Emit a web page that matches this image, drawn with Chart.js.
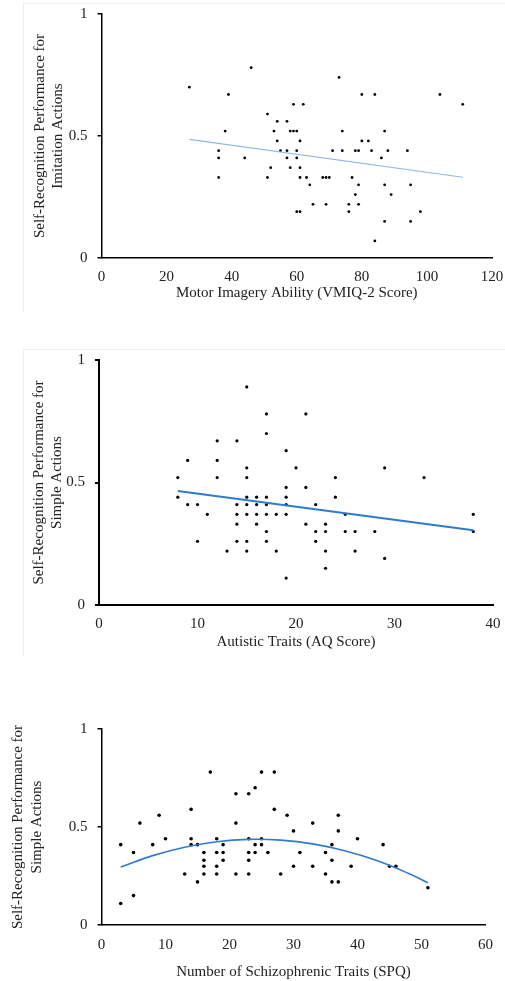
<!DOCTYPE html>
<html><head><meta charset="utf-8">
<script src="https://cdn.jsdelivr.net/npm/chart.js@4"></script>
<style>
html,body{margin:0;padding:0;background:#fff;width:505px;height:981px;overflow:hidden;}
.wrap{position:absolute;left:0;width:505px;}
.frame{position:absolute;border-left:1px solid #efefef;border-top:1px solid #efefef;}
</style></head><body>
<div class="frame" style="left:23px;top:3px;width:482px;height:309px"></div>
<div class="frame" style="left:23px;top:349px;width:482px;height:306px"></div>
<div class="wrap" style="top:0;height:315px"><canvas id="c1"></canvas></div>
<div class="wrap" style="top:340px;height:320px"><canvas id="c2"></canvas></div>
<div class="wrap" style="top:700px;height:281px"><canvas id="c3"></canvas></div>
<script>
// ---------- Panel 1: Motor imagery (VMIQ-2) vs imitation actions ----------
const vmiqScores = [46,73,27,39,80,84,104,59,62,111,51,54,57,38,53,58,59,60,74,87,54,61,80,82,
  36,55,57,60,71,74,78,79,83,88,94,36,44,57,60,86,52,58,61,36,51,61,63,68,69,70,77,
  64,79,87,95,78,89,65,69,76,79,60,61,76,98,87,95,84];
const imitationPerf = [0.78,0.74,0.70,0.67,0.67,0.67,0.67,0.63,0.63,0.63,0.59,0.56,0.56,0.52,0.52,0.52,0.52,0.52,0.52,0.52,0.48,0.48,0.48,0.48,
  0.44,0.44,0.44,0.44,0.44,0.44,0.44,0.44,0.44,0.44,0.44,0.41,0.41,0.41,0.41,0.41,0.37,0.37,0.37,0.33,0.33,0.33,0.33,0.33,0.33,0.33,0.33,
  0.30,0.30,0.30,0.30,0.26,0.26,0.22,0.22,0.22,0.22,0.19,0.19,0.19,0.19,0.15,0.15,0.07];
const trend1X = [27, 111];
const trend1Y = [0.486, 0.331];
const xTicks1 = {min:0, max:120, step:20};

// ---------- Panel 2: Autistic traits (AQ) vs simple actions ----------
const aqScores = [15,17,21,17,12,14,19,9,12,15,20,29,8,12,15,24,33,19,21,
  8,15,16,17,19,24,9,10,14,15,16,17,19,22,11,14,15,16,17,18,19,25,38,
  14,16,21,23,17,22,23,25,26,28,38,10,14,15,17,22,13,15,18,23,26,29,23,19];
const simplePerfAQ = [0.89,0.78,0.78,0.70,0.67,0.67,0.63,0.59,0.59,0.56,0.56,0.56,0.52,0.52,0.52,0.52,0.52,0.48,0.48,
  0.44,0.44,0.44,0.44,0.44,0.44,0.41,0.41,0.41,0.41,0.41,0.41,0.41,0.41,0.37,0.37,0.37,0.37,0.37,0.37,0.37,0.37,0.37,
  0.33,0.33,0.33,0.33,0.30,0.30,0.30,0.30,0.30,0.30,0.30,0.26,0.26,0.26,0.26,0.26,0.22,0.22,0.22,0.22,0.22,0.19,0.15,0.11];
const trend2X = [8, 38];
const trend2Y = [0.465, 0.305];
const xTicks2 = {min:0, max:40, step:10};

// ---------- Panel 3: Schizophrenic traits (SPQ) vs simple actions ----------
const spqScores = [17,25,27,24,21,23,14,27,9,29,37,6,21,33,30,37,
  10,14,18,23,25,40,3,8,14,15,19,24,25,36,44,5,16,18,19,23,24,26,31,35,
  16,19,23,36,16,18,30,33,39,45,46,13,16,18,21,23,28,35,15,36,37,51,5,3];
const simplePerfSPQ = [0.78,0.78,0.78,0.70,0.67,0.67,0.59,0.59,0.56,0.56,0.56,0.52,0.52,0.52,0.48,0.48,
  0.44,0.44,0.44,0.44,0.44,0.44,0.41,0.41,0.41,0.41,0.41,0.41,0.41,0.41,0.41,0.37,0.37,0.37,0.37,0.37,0.37,0.37,0.37,0.37,
  0.33,0.33,0.33,0.33,0.30,0.30,0.30,0.30,0.30,0.30,0.30,0.26,0.26,0.26,0.26,0.26,0.26,0.26,0.22,0.22,0.22,0.19,0.15,0.11];
const trend3X = [3, 8, 13, 18, 23, 28, 33, 38, 43, 48, 51];
const trend3Y = [0.296, 0.354, 0.397, 0.425, 0.437, 0.433, 0.414, 0.379, 0.329, 0.263, 0.216];
const xTicks3 = {min:0, max:60, step:10};

const yTicks = {min:0, max:1, step:0.5};

const FONT = 'Liberation Serif, Times New Roman, serif';
const TXT = '#222';

function pairs(xs, ys){ return xs.map((x,i)=>({x, y: ys[i]})); }

function makeChart(id, o){
  return new Chart(document.getElementById(id), {
    type: 'scatter',
    data: { datasets: [
      { data: pairs(o.xs, o.ys), backgroundColor:'#000', borderColor:'#000', pointRadius:o.pr, pointHoverRadius:o.pr, borderWidth:0, order:2 },
      { type:'line', data: pairs(o.tx, o.ty), borderColor:o.tc, borderWidth:o.tw, pointRadius:0, fill:false, tension:o.tension||0, showLine:true, order:1 }
    ]},
    options: {
      responsive:true, maintainAspectRatio:false, animation:false,
      events: [],
      layout: { padding: { top:o.padTop, left:0, right:o.padRight, bottom:0 } },
      plugins: { legend:{display:false}, tooltip:{enabled:false} },
      scales: {
        x: {
          type:'linear', min:o.xt.min, max:o.xt.max,
          ticks:{ stepSize:o.xt.step, color:TXT, font:{family:FONT, size:15}, padding:o.tickPad, maxRotation:0 },
          grid:{ display:true, drawOnChartArea:false, drawTicks:false },
          border:{ display:true, color:'#000', width:o.aw },
          title:{ display:true, text:o.xTitle, color:TXT, font:{family:FONT, size:15}, padding:{top:0, bottom:o.titlePadB} },
          afterFit: a => { a.height = o.xH; a.paddingLeft = 0; a.paddingRight = 0; }
        },
        y: {
          type:'linear', min:yTicks.min, max:yTicks.max,
          ticks:{ stepSize:yTicks.step, color:TXT, font:{family:FONT, size:15}, padding:10,
                  callback: v => String(Math.round(v * 10) / 10) },
          grid:{ drawOnChartArea:false, drawTicks:true, tickLength:4, color:'#000', lineWidth:o.aw },
          border:{ display:true, color:'#000', width:o.aw },
          title:{ display:true, text:o.yTitle, color:TXT, font:{family:FONT, size:15, lineHeight:o.yLH}, padding:{top:o.yTitlePad, bottom:0} },
          afterFit: a => { a.width = o.yW; a.paddingTop = 0; a.paddingBottom = 0; }
        }
      }
    }
  });
}

makeChart('c1', { xs:vmiqScores, ys:imitationPerf, tx:trend1X, ty:trend1Y, tc:'#8fb9e4', tw:1.2, pr:1.4,
  xt:xTicks1, padTop:14, padRight:13, xH:57, tickPad:10, titlePadB:13, aw:1.5, yW:101.5, yTitlePad:31, yLH:1.2,
  xTitle:'Motor Imagery Ability (VMIQ-2 Score)', yTitle:['Self-Recognition Performance for','Imitation Actions'] });

makeChart('c2', { xs:aqScores, ys:simplePerfAQ, tx:trend2X, ty:trend2Y, tc:'#2f7bcc', tw:2, pr:1.6,
  xt:xTicks2, padTop:20, padRight:12, xH:55, tickPad:10, titlePadB:9, aw:2, yW:99, yTitlePad:30, yLH:1.2,
  xTitle:'Autistic Traits (AQ Score)', yTitle:['Self-Recognition Performance for','Simple Actions'] });

makeChart('c3', { xs:spqScores, ys:simplePerfSPQ, tx:trend3X, ty:trend3Y, tc:'#2f7bcc', tw:1.6, pr:1.8, tension:0.4,
  xt:xTicks3, padTop:29, padRight:19.5, xH:56, tickPad:11, titlePadB:0, aw:1.5, yW:101.5, yTitlePad:9, yLH:1.23,
  xTitle:'Number of Schizophrenic Traits (SPQ)', yTitle:['Self-Recognition Performance for','Simple Actions'] });
</script>
</body></html>
